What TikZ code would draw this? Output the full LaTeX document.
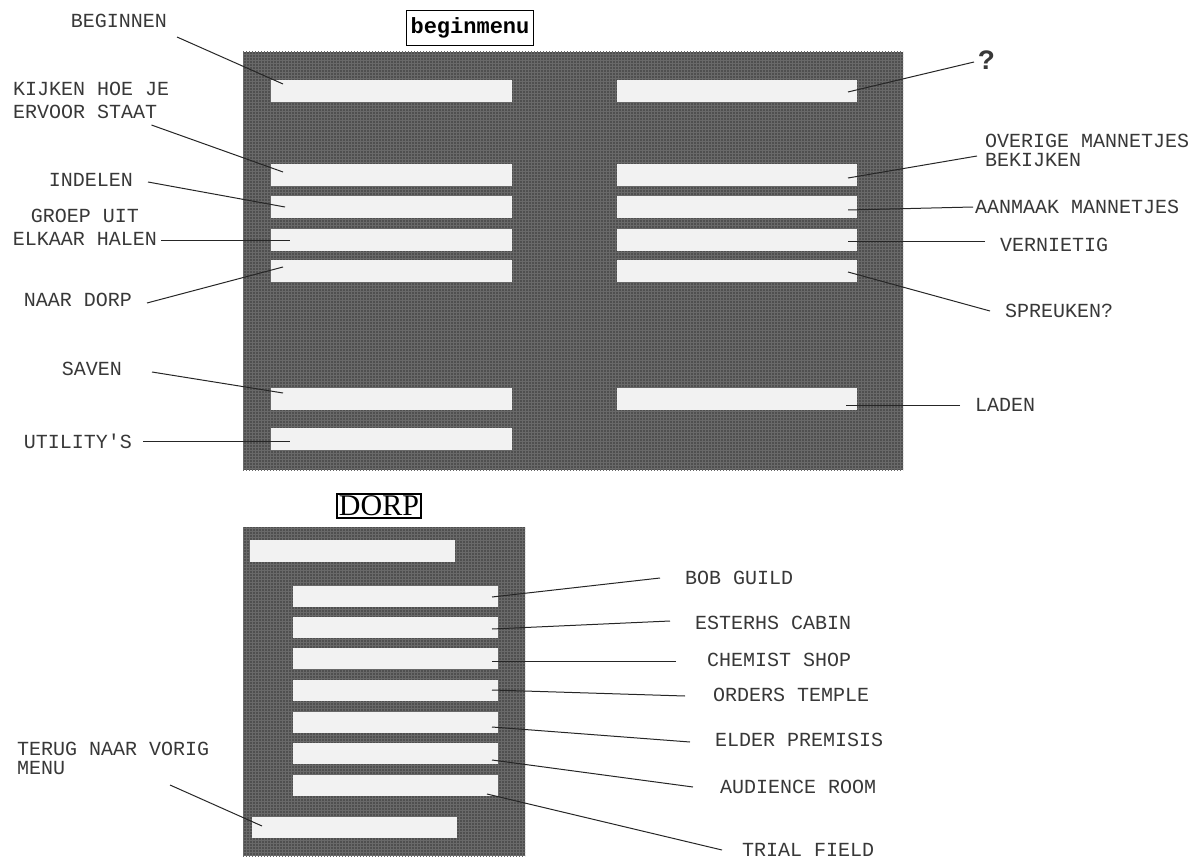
\documentclass[tikz,border=0pt]{standalone}
\usepackage{fontspec}
\setmonofont{Liberation Mono}
\newfontfamily\dorpserif{Liberation Serif}
\usepackage{xcolor}
\usetikzlibrary{patterns}
\definecolor{screen}{gray}{0.31}
\definecolor{screengrid}{gray}{0.41}
\definecolor{bar}{gray}{0.95}
\definecolor{ink}{gray}{0.22}

\begin{document}
\begin{tikzpicture}[x=1pt, y=-1pt,
    lbl/.style={font=\ttfamily\fontsize{20}{23}\selectfont, text=ink, inner sep=0pt},
    leader/.style={draw=black!85, line width=1pt}]
    \useasboundingbox (0,0) rectangle (1204,861);

    \node[draw, line width=1.4pt, inner xsep=4pt, inner ysep=7pt,
          font=\ttfamily\bfseries\fontsize{22}{22}\selectfont] (begintitel) at (470,28) {beginmenu};
    \fill[screen] (243,52) rectangle (903,470);
    \fill[pattern=grid, pattern color=screengrid] (243,52) rectangle (903,470);
    \foreach \y in {80,164,196,229,260,388}{
        \fill[bar] (271,\y) rectangle (512,\y+22);
        \fill[bar] (617,\y) rectangle (857,\y+22);
    }
    \fill[bar] (271,428) rectangle (512,450);

    \node[draw, line width=1.2pt, inner sep=2pt,
          font=\dorpserif\fontsize{30}{30}\selectfont] (dorptitel) at (379,506) {DORP};
    \fill[screen] (243,527) rectangle (525,856);
    \fill[pattern=grid, pattern color=screengrid] (243,527) rectangle (525,856);
    \fill[bar] (250,540) rectangle (455,562);
    \foreach \y in {586,617,648,680,712,743,775}{
        \fill[bar] (293,\y) rectangle (498,\y+21);
    }
    \fill[bar] (252,817) rectangle (457,838);

    \coordinate (tbeginnen) at (283,84);
    \coordinate (tkijken) at (283,172);
    \coordinate (tindelen) at (285,207);
    \coordinate (tgroep) at (290,240);
    \coordinate (tnaardorp) at (283,267);
    \coordinate (tsaven) at (283,393);
    \coordinate (tutility) at (290,441);
    \coordinate (tvraag) at (848,92);
    \coordinate (toverige) at (848,178);
    \coordinate (taanmaak) at (848,210);
    \coordinate (tvernietig) at (848,241);
    \coordinate (tspreuken) at (848,272);
    \coordinate (tladen) at (846,405);
    \coordinate (tbob) at (492,597);
    \coordinate (testerhs) at (492,629);
    \coordinate (tchemist) at (492,661);
    \coordinate (torders) at (492,690);
    \coordinate (telder) at (492,727);
    \coordinate (taudience) at (492,760);
    \coordinate (ttrial) at (487,794);
    \coordinate (tterug) at (262,826);

    \node[lbl, anchor=east] (beginnen) at (167,21) {BEGINNEN};
    \node[lbl, anchor=west, align=left] (kijken) at (13,100) {KIJKEN HOE JE\\ERVOOR STAAT};
    \node[lbl, anchor=east] (indelen) at (133,180) {INDELEN};
    \node[lbl, align=center] (groep) at (85,227) {GROEP UIT\\ELKAAR HALEN};
    \node[lbl, anchor=east] (naardorp) at (132,300) {NAAR DORP};
    \node[lbl, anchor=east] (saven) at (122,369) {SAVEN};
    \node[lbl, anchor=east] (utility) at (132,441) {UTILITY'S};

    \node[lbl, anchor=west, font=\ttfamily\bfseries\fontsize{28}{28}\selectfont] (vraag) at (978,60) {?};
    \node[lbl, anchor=west, align=left, font=\ttfamily\fontsize{20}{19}\selectfont] (overige) at (985,150) {OVERIGE MANNETJES\\BEKIJKEN};
    \node[lbl, anchor=west] (aanmaak) at (975,207) {AANMAAK MANNETJES};
    \node[lbl, anchor=west] (vernietig) at (1000,245) {VERNIETIG};
    \node[lbl, anchor=west] (spreuken) at (1005,311) {SPREUKEN?};
    \node[lbl, anchor=west] (laden) at (975,405) {LADEN};

    \node[lbl, anchor=west] (bobguild) at (685,578) {BOB GUILD};
    \node[lbl, anchor=west] (esterhs) at (695,623) {ESTERHS CABIN};
    \node[lbl, anchor=west] (chemist) at (707,660) {CHEMIST SHOP};
    \node[lbl, anchor=west] (orders) at (713,695) {ORDERS TEMPLE};
    \node[lbl, anchor=west] (elder) at (715,740) {ELDER PREMISIS};
    \node[lbl, anchor=west] (audience) at (720,787) {AUDIENCE ROOM};
    \node[lbl, anchor=west] (trial) at (742,850) {TRIAL FIELD};
    \node[lbl, anchor=west, align=left, font=\ttfamily\fontsize{20}{19}\selectfont] (terug) at (17,758) {TERUG NAAR VORIG\\MENU};

    \draw[leader] (beginnen.east) ++(10,16) -- (tbeginnen);
    \draw[leader] (kijken.east) ++(-18,25) -- (tkijken);
    \draw[leader] (indelen.east) ++(15,2) -- (tindelen);
    \draw[leader] (groep.east) ++(4,13) -- (tgroep);
    \draw[leader] (naardorp.east) ++(15,3) -- (tnaardorp);
    \draw[leader] (saven.east) ++(30,3) -- (tsaven);
    \draw[leader] (utility.east) ++(11,0) -- (tutility);

    \draw[leader] (vraag.west) ++(-4,2) -- (tvraag);
    \draw[leader] (overige.west) ++(-8,6) -- (toverige);
    \draw[leader] (aanmaak.west) ++(-2,0) -- (taanmaak);
    \draw[leader] (vernietig.west) ++(-15,-4) -- (tvernietig);
    \draw[leader] (spreuken.west) ++(-15,0) -- (tspreuken);
    \draw[leader] (laden.west) ++(-15,0) -- (tladen);

    \draw[leader] (bobguild.west) ++(-25,0) -- (tbob);
    \draw[leader] (esterhs.west) ++(-25,-2) -- (testerhs);
    \draw[leader] (chemist.west) ++(-31,1) -- (tchemist);
    \draw[leader] (orders.west) ++(-28,1) -- (torders);
    \draw[leader] (elder.west) ++(-25,2) -- (telder);
    \draw[leader] (audience.west) ++(-27,0) -- (taudience);
    \draw[leader] (trial.west) ++(-20,0) -- (ttrial);
    \draw[leader] (terug.west) ++(153,27) -- (tterug);
\end{tikzpicture}
\end{document}
